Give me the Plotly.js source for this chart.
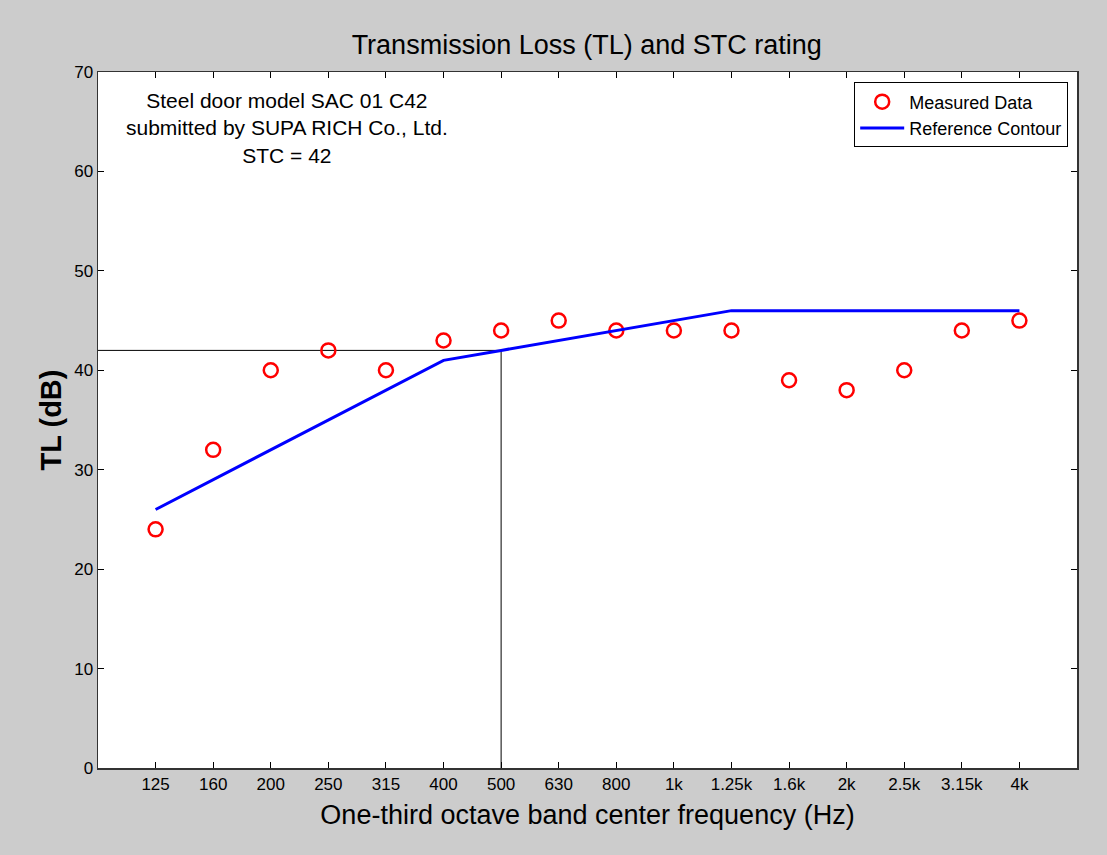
<!DOCTYPE html>
<html>
<head>
<meta charset="utf-8">
<script src="https://cdn.plot.ly/plotly-3.0.1.min.js"></script>
<style>html,body{margin:0;padding:0;background:#cccccc;}#chart{width:1107px;height:855px;}</style>
</head>
<body>
<div id="chart"></div>
<script>
const freqLabels = ['125','160','200','250','315','400','500','630','800','1k','1.25k','1.6k','2k','2.5k','3.15k','4k'];
const bandIndex = [1,2,3,4,5,6,7,8,9,10,11,12,13,14,15,16];
const measuredTL = [24,32,40,42,40,43,44,45,44,44,44,39,38,40,44,45];
const referenceContour = [26,29,32,35,38,41,42,43,44,45,46,46,46,46,46,46];
const stcValue = 42;
const stcBandIndex = 7;
const yTicks = [0,10,20,30,40,50,60,70];

const font = 'Liberation Sans, Arial, sans-serif';

const traces = [
  {
    x: [0, stcBandIndex, stcBandIndex],
    y: [stcValue, stcValue, 0],
    mode: 'lines',
    line: {color: '#000000', width: 1},
    showlegend: false,
    hoverinfo: 'skip'
  },
  {
    x: bandIndex,
    y: measuredTL,
    mode: 'markers',
    name: 'Measured Data',
    marker: {symbol: 'circle-open', size: 14, color: '#ff0000', line: {color: '#ff0000', width: 2.5}}
  },
  {
    x: bandIndex,
    y: referenceContour,
    mode: 'lines',
    name: 'Reference Contour',
    line: {color: '#0000ff', width: 3}
  }
];

const layout = {
  width: 1107,
  height: 855,
  paper_bgcolor: '#cccccc',
  plot_bgcolor: '#ffffff',
  margin: {l: 98, r: 30, t: 72, b: 87, pad: 0},
  font: {family: font, color: '#000000'},
  title: {
    text: 'Transmission Loss (TL) and STC rating',
    font: {family: font, size: 27, color: '#000000'},
    x: 0.53, xanchor: 'center', y: 0.948, yanchor: 'middle', yref: 'container'
  },
  xaxis: {
    range: [0, 17],
    tickmode: 'array',
    tickvals: bandIndex,
    ticktext: freqLabels,
    ticks: 'inside',
    ticklen: 6,
    tickwidth: 1,
    tickcolor: '#000000',
    showgrid: false,
    zeroline: false,
    showline: true,
    linecolor: '#333333',
    linewidth: 1.5,
    mirror: 'ticks',
    tickfont: {family: font, size: 17, color: '#000000'},
    title: {text: 'One-third octave band center frequency (Hz)', font: {family: font, size: 27, color: '#000000'}, standoff: 12}
  },
  yaxis: {
    range: [0, 70],
    tickmode: 'array',
    tickvals: yTicks,
    ticks: 'inside',
    ticklen: 6,
    tickwidth: 1,
    tickcolor: '#000000',
    showgrid: false,
    zeroline: false,
    showline: true,
    linecolor: '#333333',
    linewidth: 1.5,
    mirror: 'ticks',
    tickfont: {family: font, size: 17, color: '#000000'},
    title: {text: '<b>TL (dB)</b>', font: {family: font, size: 29, color: '#000000'}, standoff: 4}
  },
  legend: {
    x: 0.991, xanchor: 'right',
    y: 0.985, yanchor: 'top',
    bgcolor: '#ffffff',
    bordercolor: '#000000',
    borderwidth: 1,
    font: {family: font, size: 18, color: '#000000'},
    tracegroupgap: 0,
    itemwidth: 44
  },
  annotations: [
    {
      text: 'Steel door model SAC 01 C42<br>submitted by SUPA RICH Co., Ltd.<br>STC = 42',
      xref: 'paper', yref: 'paper',
      x: 0.193, y: 0.978, xanchor: 'center', yanchor: 'top',
      showarrow: false, align: 'center',
      font: {family: font, size: 21, color: '#000000'}
    }
  ]
};

Plotly.newPlot('chart', traces, layout, {displayModeBar: false, staticPlot: true});
</script>
</body>
</html>
